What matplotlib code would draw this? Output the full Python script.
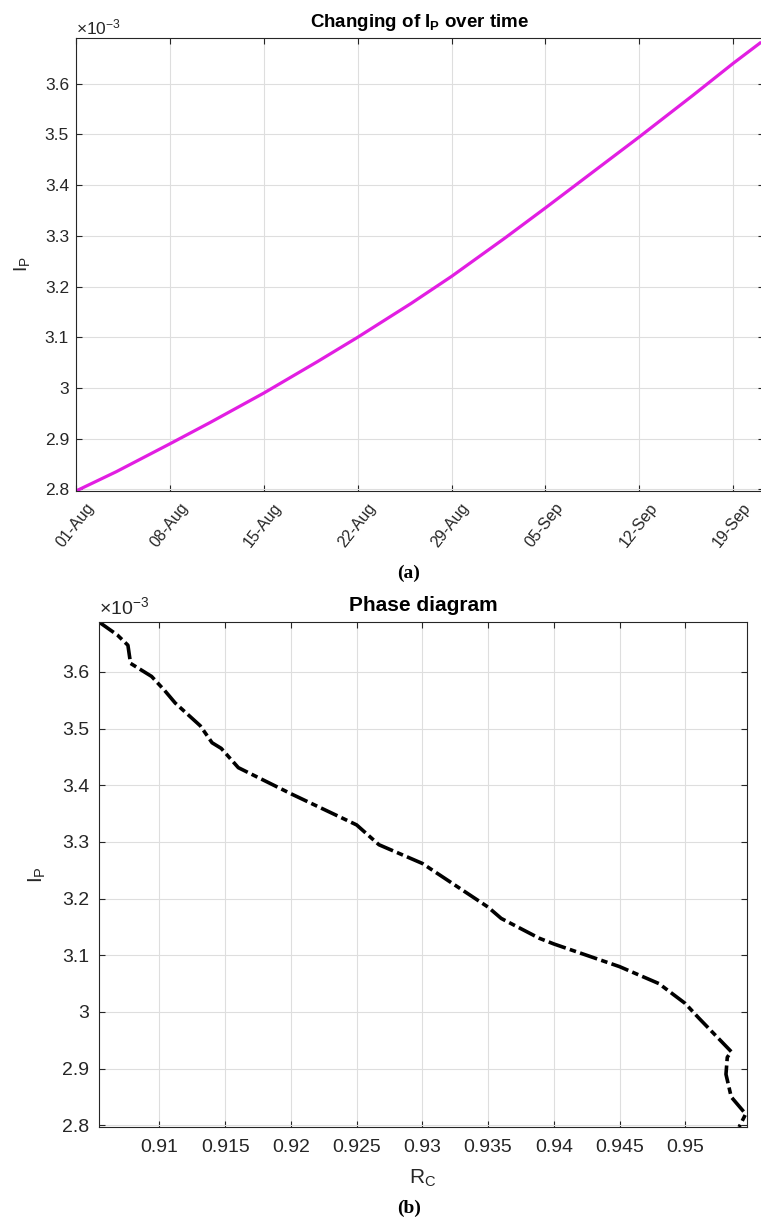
import numpy as np
import matplotlib
matplotlib.use("Agg")
import matplotlib.pyplot as plt
import matplotlib.dates as mdates
import matplotlib.transforms as mtransforms
from datetime import date, timedelta

plt.rcParams['font.family'] = ['Liberation Sans', 'DejaVu Sans']
plt.rcParams['mathtext.fontset'] = 'custom'
plt.rcParams['mathtext.rm'] = 'Liberation Sans'
plt.rcParams['mathtext.bf'] = 'Liberation Sans:bold'

# --- data (I_P in units of 1e-3) ---
start = date(2020, 8, 1)
day_offsets = [0, 3, 7, 10, 14, 18, 21, 25, 28, 32, 35, 39, 42, 46, 49, 51.3]
ip_time = [2.797, 2.835, 2.890, 2.932, 2.990, 3.052, 3.100, 3.167, 3.220, 3.296,
           3.355, 3.435, 3.495, 3.577, 3.640, 3.680]

tick_days = [0, 7, 14, 21, 28, 35, 42, 49]
tick_labels = ['01-Aug', '08-Aug', '15-Aug', '22-Aug', '29-Aug', '05-Sep', '12-Sep', '19-Sep']

rc_phase = [0.9054, 0.9068, 0.9076, 0.9078, 0.9094, 0.9104, 0.9112, 0.9131, 0.9140,
            0.9147, 0.9160, 0.9200, 0.9250, 0.9267, 0.9300, 0.9350, 0.9360, 0.9389,
            0.9400, 0.9450, 0.9480, 0.9500, 0.9510, 0.9535, 0.9532, 0.9531, 0.9535,
            0.9546, 0.9541]
ip_phase = [3.688, 3.665, 3.647, 3.615, 3.592, 3.567, 3.545, 3.505, 3.475,
            3.465, 3.431, 3.385, 3.330, 3.295, 3.262, 3.185, 3.165, 3.130,
            3.120, 3.080, 3.050, 3.015, 2.990, 2.930, 2.920, 2.890, 2.850,
            2.820, 2.797]

ip_ticks = [2.8, 2.9, 3.0, 3.1, 3.2, 3.3, 3.4, 3.5, 3.6]
ip_tick_labels = ['2.8', '2.9', '3', '3.1', '3.2', '3.3', '3.4', '3.5', '3.6']
rc_ticks = [0.91, 0.915, 0.92, 0.925, 0.93, 0.935, 0.94, 0.945, 0.95]
rc_tick_labels = ['0.91', '0.915', '0.92', '0.925', '0.93', '0.935', '0.94', '0.945', '0.95']

dates = [start + timedelta(days=d) for d in day_offsets]
xnum = mdates.date2num(dates)

W, H = 761, 1229
fig = plt.figure(figsize=(W / 100, H / 100), dpi=100)

axcol = '#262626'
gridcol = '#dedede'

def style(ax, size):
    ax.grid(True, color=gridcol, linewidth=0.8)
    ax.set_axisbelow(True)
    for s in ax.spines.values():
        s.set_color(axcol)
        s.set_linewidth(0.8)
    ax.tick_params(direction='in', length=4, width=0.8, colors=axcol,
                   top=True, right=True, labelsize=size, labelcolor=axcol)

# --- top panel ---
ax1 = fig.add_axes([76 / W, 1 - 491 / H, 688 / W, 453 / H])
ax1.plot(xnum, ip_time, color='#e21ee2', linewidth=2.3)
ax1.set_xlim(mdates.date2num(start), mdates.date2num(start) + 51.3)
ax1.set_ylim(2.797, 3.69)
style(ax1, 12.5)
ax1.set_xticks(mdates.date2num([start + timedelta(days=d) for d in tick_days]))
ax1.set_xticklabels(tick_labels, rotation=52, ha='right', va='top',
                    rotation_mode='anchor', fontsize=11.5)
ax1.set_yticks(ip_ticks)
ax1.set_yticklabels(ip_tick_labels)
ax1.tick_params(axis='x', pad=4)
ax1.tick_params(axis='y', pad=5)
off = mtransforms.ScaledTranslation(9 / 100, -4 / 100, fig.dpi_scale_trans)
for lab in ax1.get_xticklabels():
    lab.set_transform(lab.get_transform() + off)
ax1.set_title(r'Changing of $\mathbf{I_P}$ over time', fontsize=13.5,
              fontweight='bold', color='black', pad=8)
ax1.set_ylabel(r'$\mathrm{I_P}$', fontsize=14, color=axcol, labelpad=9)
fig.text(76 / W, 1 - 27 / H, r'$\times\mathrm{10^{-3}}$', fontsize=12.5,
         color=axcol, ha='left', va='center')
fig.text(409 / W, 1 - 573 / H, '(a)', fontsize=14, fontweight='bold',
         family='Liberation Serif', ha='center', va='center')

# --- bottom panel ---
ax2 = fig.add_axes([99 / W, 1 - 1127 / H, 648 / W, 505 / H])
ax2.plot(rc_phase, ip_phase, color='black', linewidth=2.6,
         dashes=[5, 1.2, 1.8, 1.2])
ax2.set_xlim(0.9054, 0.9547)
ax2.set_ylim(2.797, 3.688)
style(ax2, 14)
ax2.set_xticks(rc_ticks)
ax2.set_xticklabels(rc_tick_labels)
ax2.set_yticks(ip_ticks)
ax2.set_yticklabels(ip_tick_labels)
ax2.tick_params(axis='x', pad=9)
ax2.tick_params(axis='y', pad=7)
ax2.set_title('Phase diagram', fontsize=15, fontweight='bold', color='black', pad=8)
ax2.set_xlabel(r'$\mathrm{R_C}$', fontsize=15, color=axcol, labelpad=8)
ax2.set_ylabel(r'$\mathrm{I_P}$', fontsize=15, color=axcol, labelpad=10)
fig.text(99 / W, 1 - 607 / H, r'$\times\mathrm{10^{-3}}$', fontsize=14,
         color=axcol, ha='left', va='center')
fig.text(409 / W, 1 - 1208 / H, '(b)', fontsize=14, fontweight='bold',
         family='Liberation Serif', ha='center', va='center')

fig.savefig('out.png', dpi=100)
